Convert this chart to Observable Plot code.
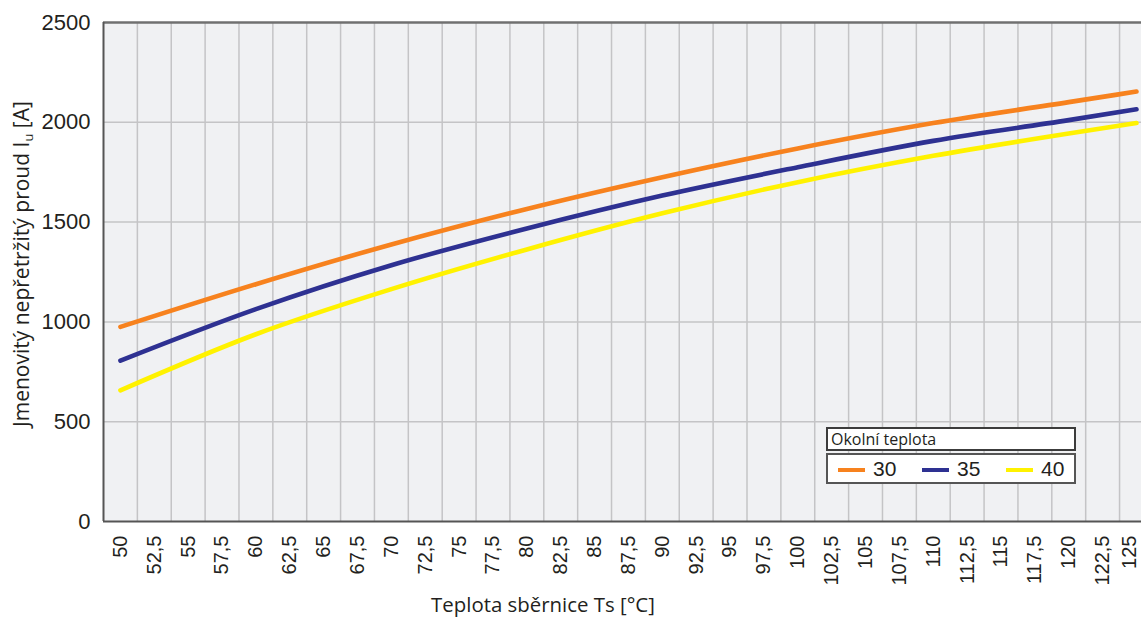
<!DOCTYPE html>
<html><head><meta charset="utf-8">
<script src="https://cdn.jsdelivr.net/npm/d3@7"></script>
<script src="https://cdn.jsdelivr.net/npm/@observablehq/plot@0.6"></script>
<style>
html,body{margin:0;padding:0;background:#fff;overflow:hidden}
#wrap{position:relative;width:1141px;height:618px}
#ylab{position:absolute;left:22px;top:264px;transform:translate(-50%,-50%) rotate(-90deg);white-space:nowrap;font-family:"Open Sans","Noto Sans",sans-serif;font-size:21px;color:#231f20}
#ylab sub{font-size:13px;vertical-align:-4px}
#xlab{position:absolute;left:543px;top:592px;transform:translateX(-50%);white-space:nowrap;font-family:"Open Sans","Noto Sans",sans-serif;font-size:20.4px;color:#231f20;line-height:24px}
#legend{position:absolute;left:826px;top:427px;width:250px}
#legend .t{box-sizing:border-box;height:24px;border:2px solid #3c3c3c;background:#fff;font-family:"Open Sans","Noto Sans",sans-serif;font-size:16px;line-height:20px;padding-left:3px;color:#231f20}
#legend .r{box-sizing:border-box;height:31px;margin-top:2px;border:2px solid #555;background:#fff;position:relative}
#legend .sw{position:absolute;top:12.5px;width:27px;height:4.5px}
#legend .lt{position:absolute;top:1px;font-family:"Liberation Sans",Arial,sans-serif;font-size:21px;line-height:26px;color:#231f20}
</style></head><body><div id="wrap"></div>
<script>
const temps = [50, 60, 70, 80, 90, 100, 110, 120, 125];
const s30 = [975, 1189, 1388, 1566, 1725, 1869, 1996, 2101, 2154];
const s35 = [806, 1064, 1284, 1468, 1633, 1775, 1907, 2011, 2065];
const s40 = [657, 938, 1164, 1363, 1544, 1700, 1832, 1944, 1996];
const seriesNames = ["30", "35", "40"];
const seriesColors = ["#f7821e", "#2e3192", "#fff200"];
const xTicks = d3.range(50, 125.01, 2.5);
const yTicks = [0, 500, 1000, 1500, 2000, 2500];
const yGrid = [500, 1000, 1500, 2000];
const xGrid = d3.range(51.25, 125, 2.5);
const legendTitle = "Okolní teplota";

const data = [];
[s30, s35, s40].forEach((arr, i) => arr.forEach((v, j) => data.push({t: temps[j], v, s: seriesNames[i]})));
const fmt = d => String(d).replace(".", ",");
const xMain = xTicks.slice(0, -1);
const xLast = xTicks.slice(-1);

const plot = Plot.plot({
  width: 1141, height: 618,
  marginLeft: 103, marginRight: 0, marginTop: 22, marginBottom: 97,
  x: {domain: [48.75, 125.37], label: null},
  y: {domain: [0, 2500], label: null},
  color: {domain: seriesNames, range: seriesColors},
  style: {fontFamily: "'Liberation Sans', Arial, sans-serif", color: "#231f20", background: "transparent"},
  marks: [
    Plot.frame({fill: "#f0f1f3", stroke: null}),
    Plot.ruleX(xGrid, {stroke: "#c4c4c6", strokeWidth: 1.5}),
    Plot.ruleY(yGrid, {stroke: "#c4c4c6", strokeWidth: 1.5}),
    Plot.ruleY([2500], {stroke: "#707070", strokeWidth: 2.5}),
    Plot.ruleY([0], {stroke: "#555", strokeWidth: 2}),
    Plot.ruleX([48.75], {stroke: "#555", strokeWidth: 2}),
    Plot.line(data, {x: "t", y: "v", stroke: "s", strokeWidth: 4.6, curve: "monotone-x"}),
    Plot.axisX(xMain, {tickFormat: fmt, tickRotate: -90, tickSize: 0, tickPadding: 14, fontSize: 20, label: null}),
    Plot.axisX(xLast, {tickFormat: fmt, tickRotate: -90, tickSize: 0, tickPadding: 14, fontSize: 20, dx: -7, label: null}),
    Plot.axisY(yTicks, {tickFormat: d => String(d), tickSize: 0, tickPadding: 13, fontSize: 22, label: null})
  ]
});
const wrap = document.getElementById("wrap");
wrap.appendChild(plot);

const yl = document.createElement("div");
yl.id = "ylab";
yl.innerHTML = "Jmenovitý nepřetržitý proud I<sub>u</sub> [A]";
wrap.appendChild(yl);

const xl = document.createElement("div");
xl.id = "xlab";
xl.textContent = "Teplota sběrnice Ts [°C]";
wrap.appendChild(xl);

const lg = document.createElement("div");
lg.id = "legend";
const lt = document.createElement("div");
lt.className = "t";
lt.textContent = legendTitle;
lg.appendChild(lt);
const row = document.createElement("div");
row.className = "r";
seriesNames.forEach((n, i) => {
  const sw = document.createElement("div");
  sw.className = "sw";
  sw.style.left = (10 + i * 84) + "px";
  sw.style.background = seriesColors[i];
  row.appendChild(sw);
  const tx = document.createElement("div");
  tx.className = "lt";
  tx.style.left = (45 + i * 84) + "px";
  tx.textContent = n;
  row.appendChild(tx);
});
lg.appendChild(row);
wrap.appendChild(lg);
</script>
</body></html>
